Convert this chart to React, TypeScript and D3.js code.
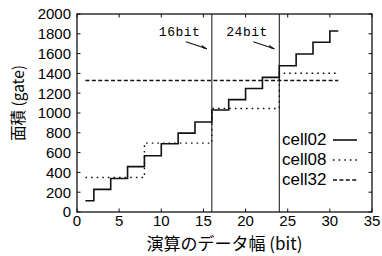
import { useEffect, useRef } from 'react';
import * as d3 from 'd3';

// step positions (bit width) and areas (gate)
const cell02Bits = [1, 2, 4, 6, 8, 10, 12, 14, 16, 18, 20, 22, 24, 26, 28, 30, 31];
const cell02Area = [114, 229, 338, 458, 568, 690, 797, 909, 1030, 1135, 1247, 1360, 1478, 1596, 1714, 1828, 1828];

const cell08Bits = [1, 8, 16, 24, 31];
const cell08Area = [348, 696, 1045, 1401, 1401];

const cell32Bits = [1, 31];
const cell32Area = [1328, 1328];

const markerBits = [16, 24];
const markerLabels = ['16bit', '24bit'];

const xTicks = [0, 5, 10, 15, 20, 25, 30, 35];
const yTicks = [0, 200, 400, 600, 800, 1000, 1200, 1400, 1600, 1800, 2000];

const seriesNames = ['cell02', 'cell08', 'cell32'];
const seriesDash = [null, '1.6,4', '4,2.4'];

export default function App() {
  const svgRef = useRef<SVGSVGElement | null>(null);

  useEffect(() => {
    if (!svgRef.current) return;
    const svg = d3.select(svgRef.current);
    svg.selectAll('*').remove();

    const W = 382;
    const H = 256;
    const margin = { top: 14, right: 10, bottom: 44, left: 77 };

    const x = d3.scaleLinear().domain([0, 35]).range([margin.left, W - margin.right]);
    const y = d3.scaleLinear().domain([0, 2000]).range([H - margin.bottom, margin.top]);

    const sans = '"Liberation Sans", Arial, sans-serif';
    const g = svg.append('g');

    // frame
    g.append('rect')
      .attr('x', x(0))
      .attr('y', y(2000))
      .attr('width', x(35) - x(0))
      .attr('height', y(0) - y(2000))
      .attr('fill', 'none')
      .attr('stroke', '#111')
      .attr('stroke-width', 1.3);

    // ticks, mirrored on all four sides
    const tl = 3.5;
    xTicks.forEach(t => {
      g.append('line').attr('x1', x(t)).attr('x2', x(t)).attr('y1', y(0)).attr('y2', y(0) - tl)
        .attr('stroke', '#111');
      g.append('line').attr('x1', x(t)).attr('x2', x(t)).attr('y1', y(2000)).attr('y2', y(2000) + tl)
        .attr('stroke', '#111');
      g.append('text')
        .attr('x', x(t))
        .attr('y', y(0) + 14)
        .attr('text-anchor', 'middle')
        .style('font-family', sans)
        .style('font-size', '15px')
        .text(t);
    });
    yTicks.forEach(t => {
      g.append('line').attr('x1', x(0)).attr('x2', x(0) + tl).attr('y1', y(t)).attr('y2', y(t))
        .attr('stroke', '#111');
      g.append('line').attr('x1', x(35)).attr('x2', x(35) - tl).attr('y1', y(t)).attr('y2', y(t))
        .attr('stroke', '#111');
      g.append('text')
        .attr('x', x(0) - 6)
        .attr('y', y(t))
        .attr('dy', '0.36em')
        .attr('text-anchor', 'end')
        .style('font-family', sans)
        .style('font-size', '15px')
        .text(t);
    });

    // vertical markers at 16bit and 24bit
    markerBits.forEach((b, i) => {
      g.append('line')
        .attr('x1', x(b)).attr('x2', x(b))
        .attr('y1', y(0)).attr('y2', y(2000))
        .attr('stroke', '#111')
        .attr('stroke-width', 1);
      g.append('text')
        .attr('x', x(b) - 53)
        .attr('y', y(1800) + 2)
        .style('font-family', '"Liberation Mono", "DejaVu Sans Mono", monospace')
        .style('font-size', '13px')
        .style('letter-spacing', '0.5px')
        .text(markerLabels[i]);
      // arrow
      const ax1 = x(b) - 26, ay1 = y(1800) + 8;
      const ax2 = x(b) - 5, ay2 = y(1800) + 15;
      g.append('line')
        .attr('x1', ax1).attr('y1', ay1).attr('x2', ax2).attr('y2', ay2)
        .attr('stroke', '#111').attr('stroke-width', 1.1);
      g.append('path')
        .attr('d', `M${ax2},${ay2} l-5,-3.2 l1,2.2 z`)
        .attr('fill', '#111')
        .attr('stroke', '#111')
        .attr('stroke-width', 0.8);
    });

    const line = d3.line<[number, number]>()
      .x(d => x(d[0]))
      .y(d => y(d[1]))
      .curve(d3.curveStepAfter);

    const series = [
      d3.zip(cell02Bits, cell02Area),
      d3.zip(cell08Bits, cell08Area),
      d3.zip(cell32Bits, cell32Area),
    ] as [number, number][][];

    series.forEach((s, i) => {
      g.append('path')
        .attr('d', line(s))
        .attr('fill', 'none')
        .attr('stroke', '#111')
        .attr('stroke-width', i === 0 ? 1.6 : 1.4)
        .attr('stroke-dasharray', seriesDash[i]);
    });

    // legend
    seriesNames.forEach((name, i) => {
      const ly = 139 + i * 20;
      g.append('text')
        .attr('x', 282)
        .attr('y', ly)
        .attr('dy', '0.36em')
        .style('font-family', sans)
        .style('font-size', '17px')
        .text(name);
      g.append('line')
        .attr('x1', 333).attr('x2', 357)
        .attr('y1', ly + 1).attr('y2', ly + 1)
        .attr('stroke', '#111')
        .attr('stroke-width', i === 0 ? 1.6 : 1.4)
        .attr('stroke-dasharray', seriesDash[i]);
    });

    // axis titles
    g.append('text')
      .attr('x', (x(0) + x(35)) / 2)
      .attr('y', 250)
      .attr('text-anchor', 'middle')
      .style('font-family', '"Noto Sans CJK JP", "Liberation Sans", sans-serif')
      .style('font-size', '17px')
      .text('演算のデータ幅 (bit)');

    g.append('text')
      .attr('transform', `translate(24,${103}) rotate(-90)`)
      .attr('text-anchor', 'middle')
      .style('font-family', '"Noto Sans CJK JP", "Liberation Sans", sans-serif')
      .style('font-size', '15.5px')
      .text('面積 (gate)');
  }, []);

  return (
    <svg
      ref={svgRef}
      width={382}
      height={256}
      style={{ position: 'absolute', left: 0, top: 0, background: '#fff' }}
    />
  );
}
